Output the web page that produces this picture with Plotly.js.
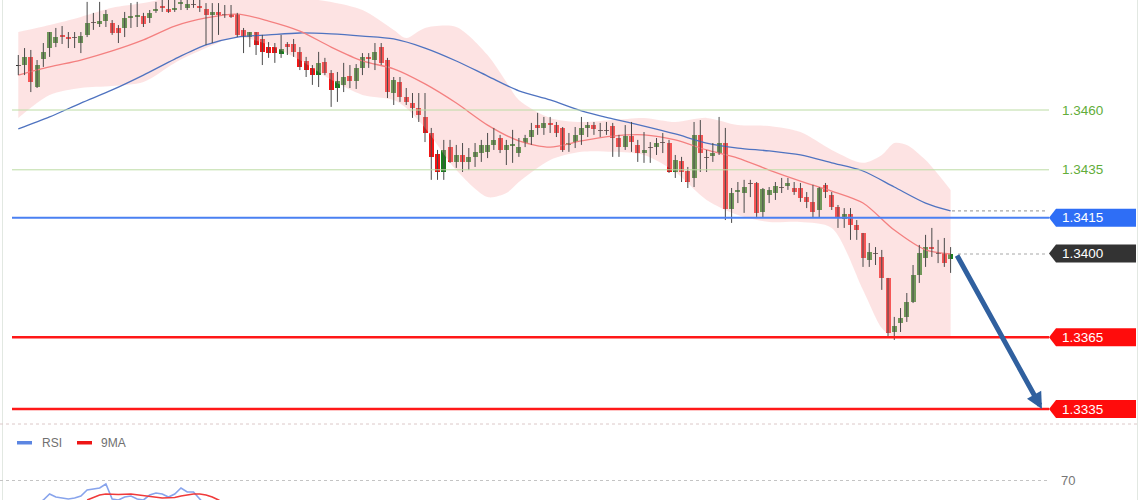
<!DOCTYPE html>
<html><head><meta charset="utf-8">
<script src="https://cdn.plot.ly/plotly-3.0.1.min.js"></script>
<style>html,body{margin:0;padding:0;background:#fff}#chart{width:1140px;height:500px}</style>
</head><body><div id="chart"></div>
<script>
// ---------- DATA ----------
const open = [
1.34784,1.34788,1.34822,1.34696,1.34813,1.34859,1.34880,1.34914,1.34905,1.34905,
1.34880,1.34914,1.34968,1.34960,1.34972,1.34964,1.34943,1.34943,1.34985,1.34989,
1.34993,1.34985,1.35014,1.35035,1.35022,1.35018,1.35043,1.35027,1.35043,1.35035,
1.35022,1.34997,1.35010,1.35001,1.35001,1.35001,1.34935,1.34905,1.34926,1.34897,
1.34863,1.34863,1.34834,1.34876,1.34876,1.34843,1.34805,1.34776,1.34746,1.34801,
1.34755,1.34692,1.34705,1.34742,1.34721,1.34776,1.34822,1.34809,1.34863,1.34809,
1.34671,1.34717,1.34654,1.34629,1.34608,1.34571,1.34504,1.34416,1.34341,1.34445,
1.34383,1.34412,1.34383,1.34404,1.34420,1.34425,1.34454,1.34483,1.34433,1.34450,
1.34420,1.34462,1.34487,1.34537,1.34525,1.34546,1.34537,1.34525,1.34454,1.34466,
1.34496,1.34525,1.34537,1.34517,1.34517,1.34533,1.34483,1.34445,1.34491,1.34454,
1.34420,1.34445,1.34445,1.34466,1.34462,1.34341,1.34387,1.34345,1.34316,1.34496,
1.34404,1.34408,1.34420,1.34462,1.34186,1.34257,1.34253,1.34295,1.34295,1.34174,
1.34245,1.34253,1.34278,1.34282,1.34274,1.34274,1.34236,1.34216,1.34182,1.34287,
1.34245,1.34195,1.34144,1.34165,1.34119,1.34086,1.33973,1.34002,1.33986,1.33898,
1.33672,1.33710,1.33735,1.33797,1.33910,1.33981,1.34027,1.34002,1.34002,1.33977];
const high = [
1.34830,1.34859,1.34851,1.34809,1.34880,1.34926,1.34943,1.34951,1.34926,1.34926,
1.34926,1.35052,1.35006,1.35052,1.35018,1.34976,1.34955,1.35010,1.35047,1.35052,
1.35006,1.35018,1.35052,1.35060,1.35060,1.35060,1.35060,1.35060,1.35060,1.35060,
1.35047,1.35047,1.35047,1.35039,1.35039,1.35006,1.34943,1.34926,1.34926,1.34914,
1.34884,1.34880,1.34914,1.34884,1.34897,1.34863,1.34822,1.34788,1.34843,1.34818,
1.34767,1.34759,1.34797,1.34788,1.34792,1.34838,1.34838,1.34880,1.34880,1.34818,
1.34738,1.34738,1.34692,1.34671,1.34671,1.34671,1.34525,1.34433,1.34475,1.34475,
1.34454,1.34462,1.34441,1.34462,1.34475,1.34504,1.34525,1.34496,1.34475,1.34517,
1.34483,1.34496,1.34546,1.34588,1.34571,1.34571,1.34550,1.34529,1.34504,1.34529,
1.34571,1.34550,1.34550,1.34546,1.34550,1.34546,1.34496,1.34537,1.34550,1.34475,
1.34508,1.34466,1.34483,1.34504,1.34475,1.34412,1.34404,1.34362,1.34550,1.34558,
1.34433,1.34462,1.34571,1.34525,1.34274,1.34299,1.34308,1.34308,1.34299,1.34274,
1.34278,1.34299,1.34316,1.34316,1.34299,1.34295,1.34257,1.34287,1.34278,1.34295,
1.34257,1.34203,1.34190,1.34190,1.34140,1.34086,1.34044,1.34027,1.34015,1.33898,
1.33735,1.33772,1.33835,1.33952,1.34036,1.34078,1.34107,1.34057,1.34065,1.34027];
const low = [
1.34746,1.34746,1.34675,1.34692,1.34780,1.34822,1.34863,1.34876,1.34859,1.34859,
1.34838,1.34905,1.34935,1.34947,1.34947,1.34914,1.34880,1.34905,1.34943,1.34947,
1.34947,1.34964,1.35006,1.35010,1.35006,1.35010,1.35018,1.35018,1.35027,1.35010,
1.34872,1.34880,1.34914,1.34985,1.34985,1.34905,1.34838,1.34863,1.34830,1.34788,
1.34818,1.34797,1.34818,1.34830,1.34822,1.34767,1.34738,1.34705,1.34696,1.34746,
1.34613,1.34634,1.34675,1.34692,1.34688,1.34746,1.34776,1.34767,1.34788,1.34650,
1.34621,1.34634,1.34621,1.34567,1.34550,1.34466,1.34308,1.34308,1.34308,1.34379,
1.34358,1.34341,1.34349,1.34362,1.34383,1.34399,1.34433,1.34420,1.34370,1.34379,
1.34404,1.34445,1.34454,1.34496,1.34496,1.34504,1.34487,1.34425,1.34425,1.34441,
1.34454,1.34487,1.34496,1.34487,1.34496,1.34404,1.34404,1.34433,1.34425,1.34383,
1.34379,1.34379,1.34412,1.34420,1.34337,1.34316,1.34299,1.34274,1.34278,1.34341,
1.34341,1.34383,1.34412,1.34140,1.34128,1.34211,1.34170,1.34236,1.34153,1.34149,
1.34211,1.34224,1.34253,1.34266,1.34245,1.34216,1.34190,1.34149,1.34149,1.34232,
1.34182,1.34107,1.34107,1.34057,1.34057,1.33944,1.33944,1.33952,1.33848,1.33647,
1.33639,1.33672,1.33714,1.33793,1.33877,1.33944,1.33986,1.33960,1.33944,1.33919];
const close = [
1.34788,1.34822,1.34717,1.34788,1.34843,1.34926,1.34905,1.34905,1.34897,1.34901,
1.34909,1.34964,1.34964,1.34972,1.35001,1.34922,1.34922,1.34985,1.34993,1.34997,
1.34960,1.35006,1.35022,1.35027,1.35010,1.35027,1.35052,1.35043,1.35039,1.35027,
1.34997,1.35010,1.34997,1.34997,1.34989,1.34914,1.34905,1.34926,1.34872,1.34843,
1.34838,1.34838,1.34855,1.34863,1.34843,1.34780,1.34767,1.34746,1.34797,1.34755,
1.34684,1.34721,1.34738,1.34721,1.34776,1.34822,1.34813,1.34843,1.34797,1.34675,
1.34726,1.34654,1.34634,1.34608,1.34579,1.34504,1.34404,1.34341,1.34433,1.34383,
1.34412,1.34383,1.34404,1.34425,1.34454,1.34454,1.34475,1.34433,1.34454,1.34458,
1.34445,1.34483,1.34517,1.34525,1.34546,1.34537,1.34504,1.34433,1.34462,1.34496,
1.34525,1.34537,1.34521,1.34512,1.34512,1.34483,1.34445,1.34491,1.34466,1.34420,
1.34433,1.34441,1.34462,1.34462,1.34341,1.34391,1.34341,1.34299,1.34496,1.34420,
1.34399,1.34420,1.34462,1.34186,1.34253,1.34266,1.34278,1.34291,1.34170,1.34270,
1.34266,1.34282,1.34274,1.34295,1.34257,1.34232,1.34216,1.34174,1.34274,1.34257,
1.34195,1.34149,1.34165,1.34119,1.34098,1.33981,1.34006,1.33998,1.33898,1.33668,
1.33697,1.33731,1.33797,1.33910,1.34002,1.34027,1.34019,1.33998,1.33960,1.33998];

const maIndex = [0,5,10,15,20,25,30,35,40,45,50,55,60,65,70,75,80,85,90,95,100,105,110,115,120,125,130,135,140,145,149];
const redMA = [1.34746,1.34780,1.34809,1.34847,1.34893,1.34951,1.34985,1.35001,1.34972,1.34930,
1.34863,1.34805,1.34772,1.34709,1.34629,1.34537,1.34471,1.34445,1.34471,1.34491,
1.34496,1.34475,1.34433,1.34399,1.34349,1.34303,1.34261,1.34211,1.34098,1.34015,1.33998];
const blueMA = [1.34521,1.34571,1.34629,1.34684,1.34746,1.34813,1.34872,1.34905,1.34914,1.34922,
1.34918,1.34909,1.34897,1.34859,1.34805,1.34742,1.34680,1.34642,1.34596,1.34563,
1.34533,1.34500,1.34462,1.34441,1.34429,1.34412,1.34379,1.34345,1.34278,1.34211,1.34178];

const bandIndex = [0,5,10,15,20,25,30,35,40,45,50,55,60,62,65,70,75,78,80,85,90,95,100,105,110,115,120,125,130,135,138,140,142,145,149];
const bandUpper = [1.34926,1.34955,1.34989,1.35027,1.35047,1.35073,1.35081,1.35081,1.35077,1.35068,
1.35052,1.35018,1.34935,1.34901,1.34943,1.34947,1.34830,1.34717,1.34642,1.34567,
1.34550,1.34558,1.34567,1.34550,1.34567,1.34537,1.34533,1.34508,1.34433,1.34379,
1.34412,1.34462,1.34454,1.34391,1.34266];
const bandLower = [1.34567,1.34663,1.34692,1.34700,1.34717,1.34797,1.34859,1.34905,1.34872,1.34809,
1.34726,1.34663,1.34642,1.34608,1.34525,1.34349,1.34236,1.34253,1.34299,1.34391,
1.34425,1.34425,1.34412,1.34341,1.34224,1.34161,1.34132,1.34132,1.34107,1.33848,
1.33689,1.33647,1.33647,1.33647,1.33655];

const levelValues = [1.3460, 1.3435, 1.3415, 1.3400, 1.3365, 1.3335];
const levelLabels = ['1.3460', '1.3435', '1.3415', '1.3400', '1.3365', '1.3335'];

const rsiIndex = [3,4,5,6,7,8,9,10,11,12,13,14,15,16,17,18,19,20,21,22,23,24,25,26,27,28,29,30];
const rsiValues = [45.5,50.5,56.5,53.5,52.5,51.5,52.5,54.5,60.5,61.5,62.5,66.5,51.5,50.5,53.5,54.5,51.5,50.5,55.5,57.5,56.5,53.5,56.5,62.5,58.5,58.5,50.5,44.5];
const ma9Index = [11,12,13,14,16,18,20,22,23,25,26,28,29,30,31,32,33];
const ma9Values = [50.5,53,55.5,56.5,56,56.5,55,53.5,52.5,53,54.5,56.5,56.5,55.5,53.5,50.5,46.5];
const rsiLevel = 70;
const legendNames = ['RSI', '9MA'];

// ---------- GEOMETRY / STYLE ----------
const W = 1140, H = 500;
const Y0 = 1.329696, Y1 = 1.350599;
const PP = (Y1 - Y0) / H;             // price per pixel
const px = v => v / W;                  // paper x from pixels
const py = v => 1 - v / H;              // paper y from pixels
const FONT = 'Liberation Sans, Arial, sans-serif';

const N = open.length;
const candleX = open.map((_, i) => i);
const bodyBase = open.map((o, i) => Math.min(o, close[i]));
const bodySize = open.map((o, i) => Math.abs(close[i] - o));
const bodyColor = open.map((o, i) => Math.abs(close[i] - o) < 0.000065 ? '#333333' : (close[i] > o ? '#16801b' : '#f21414'));
const wickX = [], wickY = [];
candleX.forEach((x, i) => { wickX.push(x, x, null); wickY.push(low[i], high[i], null); });

const traces = [
  {type:'scatter', x:bandIndex, y:bandUpper, mode:'lines', line:{width:0, shape:'spline', smoothing:0.8}, hoverinfo:'skip'},
  {type:'scatter', x:bandIndex, y:bandLower, mode:'lines', line:{width:0, shape:'spline', smoothing:0.8}, fill:'tonexty', fillcolor:'rgba(250,185,185,0.40)', hoverinfo:'skip'},
  {type:'scatter', x:maIndex, y:blueMA, mode:'lines', line:{color:'#4f73c0', width:1.3, shape:'spline', smoothing:0.8}, hoverinfo:'skip'},
  {type:'scatter', x:maIndex, y:redMA, mode:'lines', line:{color:'#f48080', width:1.3, shape:'spline', smoothing:0.8}, hoverinfo:'skip'},
  {type:'scatter', x:wickX, y:wickY, mode:'lines', line:{color:'#4a4a4a', width:1}, connectgaps:false, hoverinfo:'skip'},
  {type:'bar', x:candleX, y:bodySize, base:bodyBase, width:0.8, marker:{color:bodyColor, line:{width:0}}, hoverinfo:'skip'},
  {type:'scatter', x:rsiIndex, y:rsiValues, yaxis:'y2', mode:'lines', line:{color:'#88a4ec', width:1.6}, hoverinfo:'skip'},
  {type:'scatter', x:ma9Index, y:ma9Values, yaxis:'y2', mode:'lines', line:{color:'#f03a3a', width:1.6}, hoverinfo:'skip'}
];

const levelStyles = [
  {line:'#bcdca4', w:1, box:null, text:'#62ad3a'},
  {line:'#bcdca4', w:1, box:null, text:'#62ad3a'},
  {line:'#4a80f2', w:2, box:'#2e6ef6', text:'#ffffff'},
  {line:null, w:0, box:'#333333', text:'#ffffff'},
  {line:'#ff1818', w:2.5, box:'#ff0c0c', text:'#ffffff'},
  {line:'#ff1818', w:2.5, box:'#ff0c0c', text:'#ffffff'}
];

const shapes = [
  {type:'line', xref:'paper', yref:'paper', x0:px(2.5), x1:px(2.5), y0:0, y1:1, line:{color:'#e2e8e2', width:1}},
  {type:'line', xref:'paper', yref:'paper', x0:px(1137.5), x1:px(1137.5), y0:0, y1:1, line:{color:'#e2e8e2', width:1}},
  {type:'line', xref:'paper', yref:'paper', x0:0, x1:px(1137), y0:py(424), y1:py(424), line:{color:'#dcc8c8', width:1, dash:'dot'}},
  {type:'line', xref:'paper', yref:'y2', x0:0, x1:px(1047), y0:rsiLevel, y1:rsiLevel, line:{color:'#c4c4c4', width:1, dash:'dot'}},
  {type:'line', xref:'paper', yref:'y', x0:px(952), x1:px(1048), y0:blueMA[blueMA.length-1], y1:blueMA[blueMA.length-1], line:{color:'#a8a8a8', width:1.2, dash:'dot'}},
  {type:'line', xref:'paper', yref:'y', x0:px(958), x1:px(1048), y0:close[N-1], y1:close[N-1], line:{color:'#a8a8a8', width:1.2, dash:'dot'}},
  {type:'rect', xref:'paper', yref:'paper', x0:px(17), x1:px(32), y0:py(441), y1:py(444.5), fillcolor:'#5c86e2', line:{width:0}},
  {type:'rect', xref:'paper', yref:'paper', x0:px(77), x1:px(92), y0:py(441), y1:py(444.5), fillcolor:'#ee1515', line:{width:0}}
];
const annotations = [];
const hh = 9 * PP;
levelValues.forEach((L, i) => {
  const s = levelStyles[i];
  if (s.line) shapes.push({type:'line', xref:'paper', yref:'y', x0:px(12), x1:px(1049), y0:L, y1:L, line:{color:s.line, width:s.w}});
  if (s.box) {
    const tip = px(1049), sh = px(1056), r = px(1136);
    shapes.push({type:'path', xref:'paper', yref:'y', fillcolor:s.box, line:{width:0},
      path:`M ${tip},${L} L ${sh},${L+hh} L ${r},${L+hh} L ${r},${L-hh} L ${sh},${L-hh} Z`});
  }
  annotations.push({xref:'paper', yref:'y', x:px(1060), y:L, xanchor:'left', yanchor:'middle', showarrow:false,
    text:levelLabels[i], font:{family:FONT, size:13.5, color:s.text}});
});
annotations.push({xref:'paper', yref:'y2', x:px(1059), y:rsiLevel, xanchor:'left', yanchor:'middle', showarrow:false,
  text:String(rsiLevel), font:{family:FONT, size:13, color:'#777777'}});
annotations.push({xref:'paper', yref:'paper', x:px(40), y:py(442.5), xanchor:'left', yanchor:'middle', showarrow:false,
  text:legendNames[0], font:{family:FONT, size:12, color:'#707070'}});
annotations.push({xref:'paper', yref:'paper', x:px(99), y:py(442.5), xanchor:'left', yanchor:'middle', showarrow:false,
  text:legendNames[1], font:{family:FONT, size:12, color:'#707070'}});
annotations.push({xref:'x', yref:'y', axref:'x', ayref:'y', x:(N-1)+14.6, y:levelValues[5], ax:(N-1)+0.9, ay:close[N-1],
  text:'', showarrow:true, arrowhead:2, arrowsize:0.65, arrowwidth:5, arrowcolor:'#30609f', standoff:0, startstandoff:0});

const layout = {
  width:W, height:H, margin:{l:0, r:0, t:0, b:0}, paper_bgcolor:'#ffffff', plot_bgcolor:'rgba(0,0,0,0)',
  showlegend:false, bargap:0,
  xaxis:{range:[-2.925, 179.27], visible:false, fixedrange:true},
  yaxis:{range:[Y0, Y1], domain:[0, 1], visible:false, fixedrange:true},
  yaxis2:{range:[50.5, 126.5], domain:[0, py(424)], visible:false, anchor:'x', fixedrange:true},
  shapes:shapes, annotations:annotations
};
Plotly.newPlot('chart', traces, layout, {staticPlot:true, displayModeBar:false});
</script>
</body></html>
